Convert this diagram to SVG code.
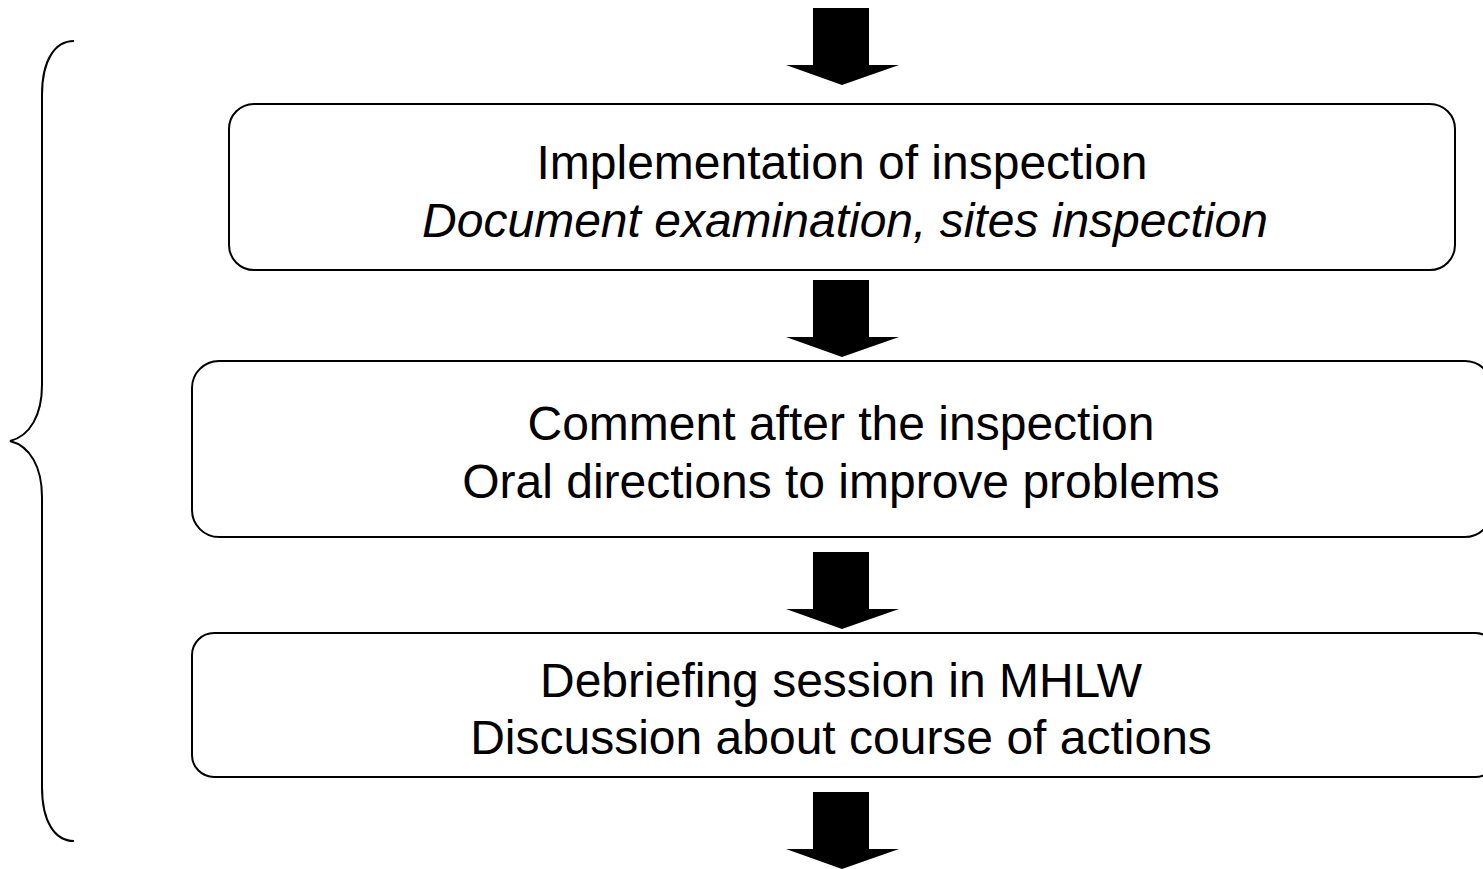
<svg xmlns="http://www.w3.org/2000/svg" width="1483" height="869" viewBox="0 0 1483 869">
<defs>
<style>
.box{fill:#fff;stroke:#000;stroke-width:2}
.arrow{fill:#000}
.t{font-family:"Liberation Sans",Arial,sans-serif;font-size:48px;fill:#000;text-anchor:middle}
.i{font-style:italic}
.brace{fill:none;stroke:#000;stroke-width:2}
</style>
<path id="arr" d="M0 0 H56 V57 H86 L29 77 L-27 57 H0 Z"/>
</defs>
<rect width="1483" height="869" fill="#fff"/>
<g id="connectors">
<use href="#arr" class="arrow" x="813" y="8"/>
<use href="#arr" class="arrow" x="813" y="280"/>
<use href="#arr" class="arrow" x="813" y="552"/>
<use href="#arr" class="arrow" x="813" y="792"/>
</g>
<g id="brace">
<path class="brace" d="M74 41 C55 41 42 60 42 95 V385 C42 415 30 436 10 441 C30 446 42 467 42 497 V787 C42 822 55 841 74 841"/>
</g>
<g id="node1">
<rect class="box" x="229" y="104" width="1226" height="166" rx="25"/>
<text class="t" x="842" y="179">Implementation of inspection</text>
<text class="t i" x="845" y="237">Document examination, sites inspection</text>
</g>
<g id="node2">
<rect class="box" x="192" y="361" width="1300" height="176" rx="27"/>
<text class="t" x="841" y="440">Comment after the inspection</text>
<text class="t" x="841" y="498">Oral directions to improve problems</text>
</g>
<g id="node3">
<rect class="box" x="192" y="633" width="1305" height="144" rx="22"/>
<text class="t" x="841" y="697">Debriefing session in MHLW</text>
<text class="t" x="841" y="754">Discussion about course of actions</text>
</g>
</svg>
